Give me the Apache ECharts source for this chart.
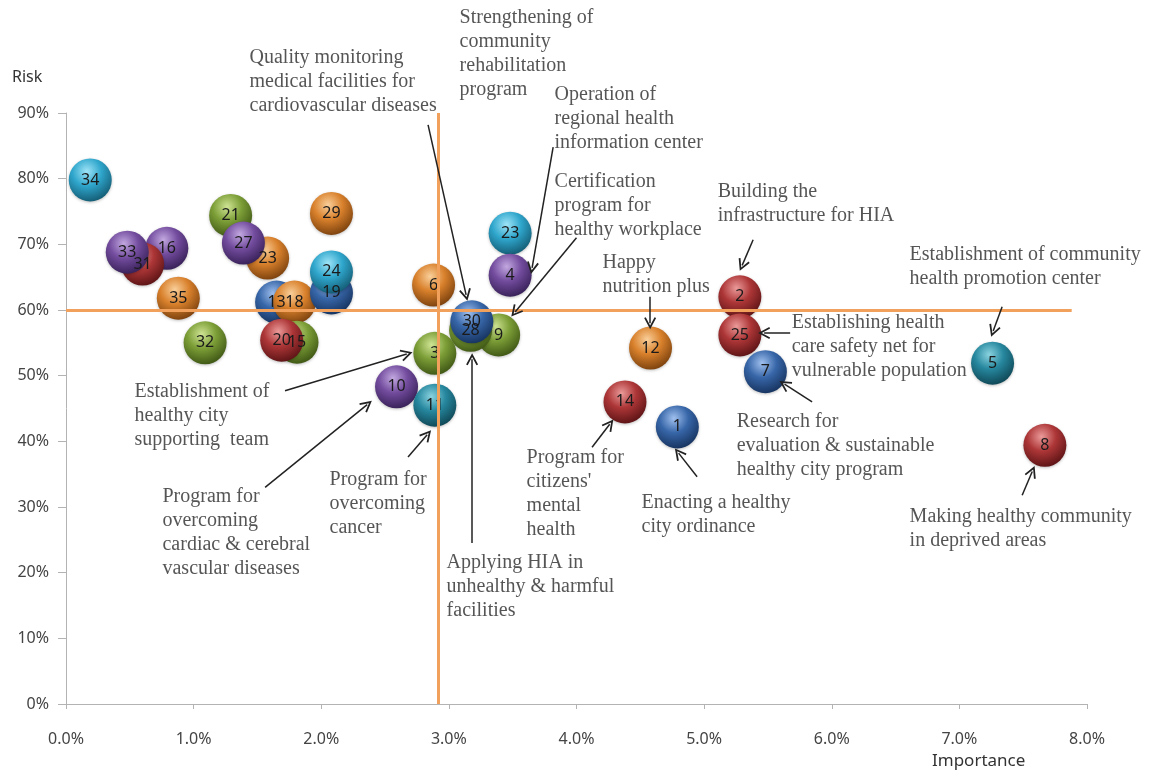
<!DOCTYPE html>
<html>
<head>
<meta charset="utf-8">
<title>Importance vs Risk</title>
<script src="https://cdn.jsdelivr.net/npm/echarts@6/dist/echarts.min.js"></script>
<style>
  html, body { margin: 0; padding: 0; background: #fff; }
  #chart { width: 1151px; height: 777px; }
</style>
</head>
<body>
<div id="chart"></div>
<script>
// program numbers, drawn in this order (later ones sit on top)
const ids = ['34', '29', '21', '23', '27', '16', '31', '33', '35', '13', '18', '19', '24', '32', '15', '20',
  '6', '9', '28', '30', '3', '10', '11', '23', '4', '2', '25', '12', '7', '14', '1', '5', '8'];
// importance (%)
const importance = [0.19, 2.08, 1.29, 1.58, 1.39, 0.79, 0.60, 0.48, 0.88, 1.65, 1.79, 2.08, 2.08, 1.09, 1.81, 1.69,
  2.88, 3.39, 3.17, 3.18, 2.89, 2.59, 2.89, 3.48, 3.48, 5.28, 5.28, 4.58, 5.48, 4.38, 4.79, 7.26, 7.67];
// risk (%)
const risk = [79.8, 74.7, 74.4, 67.9, 70.2, 69.4, 67.0, 68.8, 61.8, 61.2, 61.2, 62.6, 65.8, 55.0, 55.1, 55.4,
  63.8, 56.2, 56.9, 58.2, 53.4, 48.3, 45.5, 71.7, 65.3, 62.0, 56.2, 54.2, 50.6, 46.0, 42.2, 51.9, 39.4];
// colour group of each ball
const group = ['cyan', 'orange', 'green', 'orange', 'purple', 'purple', 'red', 'purple', 'orange', 'blue', 'orange', 'blue', 'cyan', 'green', 'green', 'red',
  'orange', 'green', 'green', 'blue', 'green', 'purple', 'teal', 'cyan', 'purple', 'red', 'red', 'orange', 'blue', 'red', 'blue', 'teal', 'red'];

const xTicks = [0, 1, 2, 3, 4, 5, 6, 7, 8];
const yTicks = [0, 10, 20, 30, 40, 50, 60, 70, 80, 90];

// quadrant split lines
const splitImportance = 2.92;
const splitRisk = 60;

// annotations: text, text top-left [importance, risk], arrow from -> to
const noteText = [
  'Strengthening of\ncommunity\nrehabilitation\nprogram',
  'Quality monitoring\nmedical facilities for\ncardiovascular diseases',
  'Operation of\nregional health\ninformation center',
  'Certification\nprogram for\nhealthy workplace',
  'Building the\ninfrastructure for HIA',
  'Happy\nnutrition plus',
  'Establishment of community\nhealth promotion center',
  'Establishing health\ncare safety net for\nvulnerable population',
  'Research for\nevaluation & sustainable\nhealthy city program',
  'Making healthy community\nin deprived areas',
  'Enacting a healthy\ncity ordinance',
  'Program for\ncitizens\'\nmental\nhealth',
  'Applying HIA in\nunhealthy & harmful\nfacilities',
  'Program for\novercoming\ncancer',
  'Establishment of\nhealthy city\nsupporting  team',
  'Program for\novercoming\ncardiac & cerebral\nvascular diseases'
];
const notePos = [
  [3.088, 106.3], [1.442, 100.2], [3.832, 94.6], [3.832, 81.3], [5.110, 79.8], [4.208, 69.0],
  [6.614, 70.2], [5.690, 59.8], [5.259, 44.8], [6.614, 30.3], [4.514, 32.4], [3.613, 39.3],
  [2.986, 23.3], [2.069, 35.9], [0.541, 49.3], [0.760, 33.3]
];
const arrowFrom = [
  [3.440, 90.9], [2.837, 88.2], [3.817, 84.8], [4.00, 71.0], [5.384, 70.7], [4.577, 62.0],
  [7.335, 60.5], [5.674, 56.5], [5.846, 46.0], [7.492, 31.8], [4.945, 34.6], [4.122, 39.1],
  [3.182, 24.5], [2.680, 37.6], [1.716, 47.7], [1.560, 33.0]
];
const arrowTo = [
  [3.440, 75.8], [3.135, 62.3], [3.652, 66.4], [3.519, 59.7], [5.298, 66.8], [4.577, 58.0],
  [7.265, 56.8], [5.470, 56.5], [5.630, 48.7], [7.571, 35.4], [4.800, 38.2], [4.260, 42.6],
  [3.182, 52.5], [2.830, 41.0], [2.670, 53.3], [2.360, 45.6]
];

const palette = {
  cyan:   ['#9fe4f7', '#2fa6cc', '#12566d'],
  teal:   ['#8ad3e0', '#26879e', '#0d4250'],
  orange: ['#f9cf9a', '#d9812c', '#743c0b'],
  green:  ['#cfe494', '#7c9e37', '#3a5112'],
  purple: ['#c2a8e0', '#734c9e', '#331d52'],
  red:    ['#eb9a9a', '#ad3637', '#561113'],
  blue:   ['#a0c0ee', '#3766a8', '#142f59']
};

function ball(name) {
  const c = palette[name];
  return {
    type: 'radial', x: 0.42, y: 0.3, r: 0.75,
    colorStops: [
      { offset: 0, color: c[0] },
      { offset: 0.45, color: c[1] },
      { offset: 1, color: c[2] }
    ]
  };
}

const balls = ids.map((id, i) => ({
  name: id,
  value: [importance[i], risk[i]],
  itemStyle: { color: ball(group[i]) }
}));

const notes = noteText.map((t, i) => ({ name: t, value: notePos[i] }));
const arrows = arrowFrom.map((p, i) => [{ coord: p }, { coord: arrowTo[i] }]);

const chevron = 'path://M0,12 L6,0 L12,12 L10.4,12.9 L6,4 L1.6,12.9 Z';

const chart = echarts.init(document.getElementById('chart'));
chart.setOption({
  animation: false,
  backgroundColor: '#fff',
  grid: { left: 66, right: 64, top: 113, bottom: 73 },
  xAxis: {
    type: 'value', min: xTicks[0], max: xTicks[xTicks.length - 1], interval: 1,
    axisLine: { lineStyle: { color: '#b3b3b3' } },
    axisTick: { show: true, length: 5, lineStyle: { color: '#b3b3b3' } },
    axisLabel: { margin: 27, fontSize: 16, color: '#444', fontFamily: 'Noto Sans', formatter: v => v.toFixed(1) + '%' },
    splitLine: { show: false }
  },
  yAxis: {
    type: 'value', min: yTicks[0], max: yTicks[yTicks.length - 1], interval: 10,
    axisLine: { show: true, lineStyle: { color: '#b3b3b3' } },
    axisTick: { show: true, length: 8, lineStyle: { color: '#b3b3b3' } },
    axisLabel: { margin: 17, fontSize: 16, color: '#444', fontFamily: 'Noto Sans', formatter: '{value}%' },
    splitLine: { show: false }
  },
  graphic: [
    { type: 'text', left: 12, top: 69, style: { text: 'Risk', fontSize: 16, fill: '#333', fontFamily: 'Noto Sans' } },
    { type: 'text', left: 932, top: 753, style: { text: 'Importance', fontSize: 17, fill: '#333', fontFamily: 'Noto Sans' } }
  ],
  series: [
    {
      // the balls, with the orange quadrant lines on top
      type: 'scatter',
      z: 2,
      symbol: 'circle',
      symbolSize: 43,
      clip: false,
      silent: true,
      data: balls,
      itemStyle: { opacity: 1, shadowColor: 'rgba(0,0,0,0.25)', shadowBlur: 3, shadowOffsetY: 1 },
      label: {
        show: true, position: 'inside', formatter: '{b}',
        fontSize: 16, color: '#1a1a1a', fontFamily: 'Noto Sans'
      },
      markLine: {
        silent: true,
        symbol: ['none', 'none'],
        label: { show: false },
        lineStyle: { color: '#f2a15c', width: 3, type: 'solid', opacity: 1 },
        data: [
          [{ coord: [0, splitRisk] }, { coord: [7.88, splitRisk] }],
          [{ coord: [splitImportance, 90] }, { coord: [splitImportance, 0] }]
        ]
      }
    },
    {
      // annotation texts and arrows
      type: 'scatter',
      z: 4,
      symbolSize: 1,
      clip: false,
      silent: true,
      itemStyle: { color: 'rgba(0,0,0,0)' },
      data: notes,
      label: {
        show: true, position: [0, 0], align: 'left', verticalAlign: 'top',
        formatter: '{b}', fontSize: 20, lineHeight: 24, color: '#2a2a2a',
        fontFamily: 'Liberation Serif'
      },
      markLine: {
        silent: true,
        symbol: ['none', chevron],
        symbolSize: [12, 12],
        label: { show: false },
        lineStyle: { color: '#222', width: 1.5, type: 'solid' },
        data: arrows
      }
    }
  ]
});
</script>
</body>
</html>
